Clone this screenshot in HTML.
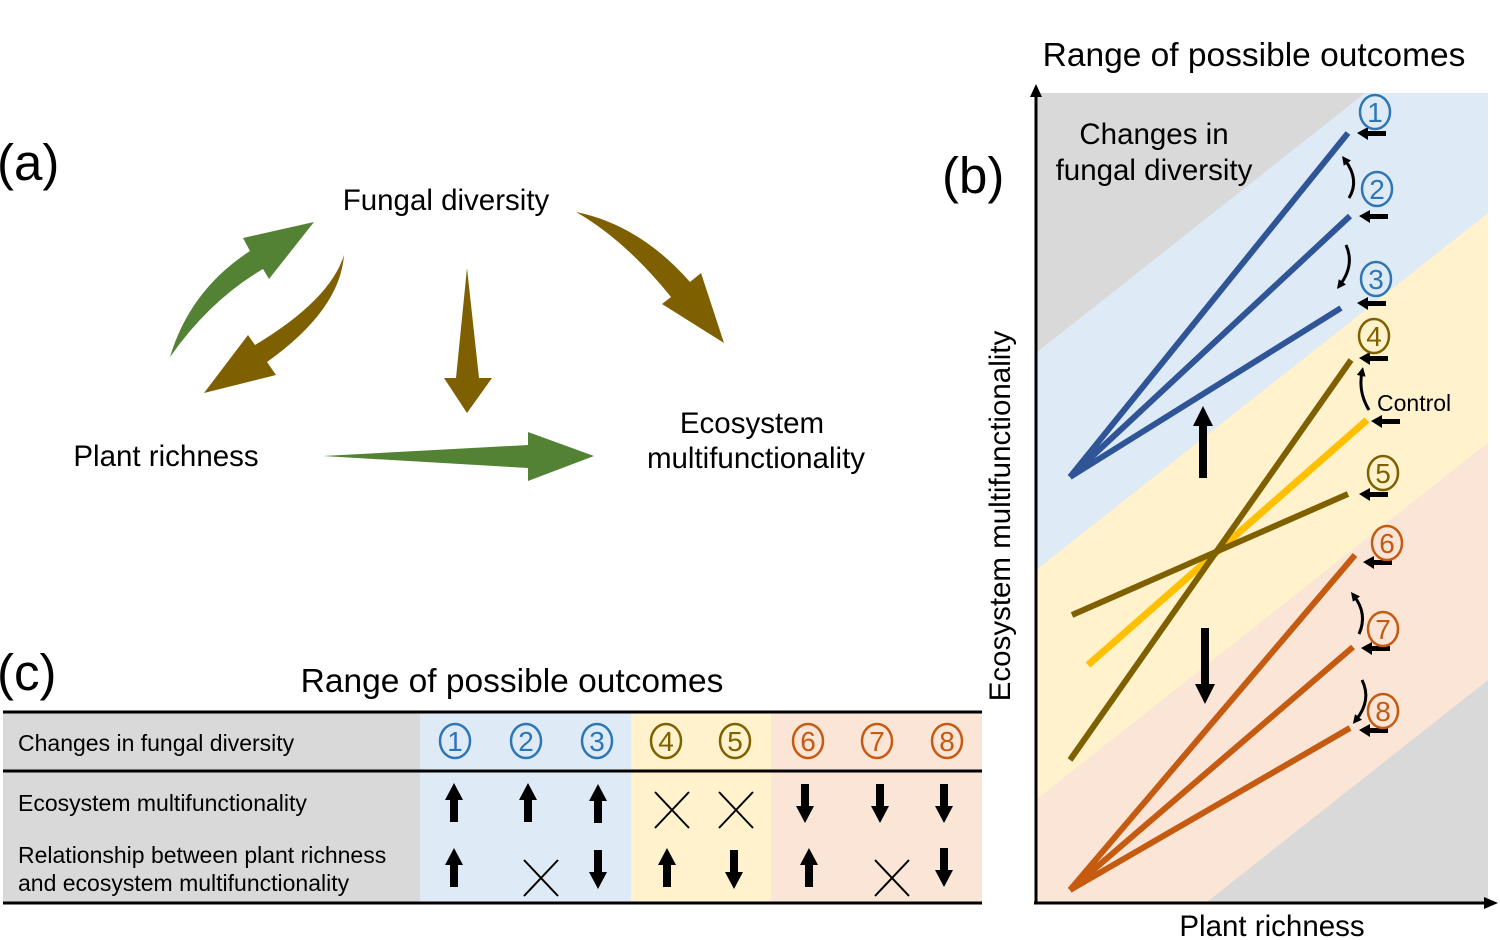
<!DOCTYPE html>
<html><head><meta charset="utf-8"><style>
html,body{margin:0;padding:0;background:#fff;overflow:hidden;width:1500px;height:940px;}
svg{display:block;font-family:"Liberation Sans",sans-serif;}
</style></head><body>
<svg width="1500" height="940" viewBox="0 0 1500 940" xmlns="http://www.w3.org/2000/svg">
<defs>
<clipPath id="cb"><rect x="1036" y="93" width="452" height="810"/></clipPath>
<marker id="ah" markerWidth="9" markerHeight="9" refX="4" refY="4.5" orient="auto" markerUnits="userSpaceOnUse"><path d="M0,0 L9,4.5 L0,9 Z" fill="#000"/></marker>
</defs>

<text x="-3" y="180" font-size="51">(a)</text>
<text x="446" y="210" font-size="29.5" text-anchor="middle">Fungal diversity</text>
<text x="166" y="466" font-size="29.5" text-anchor="middle">Plant richness</text>
<text x="752" y="433" font-size="29.5" text-anchor="middle">Ecosystem</text>
<text x="756" y="468" font-size="29.5" text-anchor="middle">multifunctionality</text>

<path d="M170,357 Q190,290 250,251 L243,238 L314,222 L269,279 L263,269 Q210,300 170,357 Z" fill="#548235"/>
<path d="M344,255 Q340,310 267,362 L276,375 L204,393 L248,335 L255,345 Q330,300 344,255 Z" fill="#7f6000"/>
<path d="M467,268 L479,378 L492,378 L467,413 L444,378 L456,378 Z" fill="#7f6000"/>
<path d="M576,212 Q640,225 690,282 L701,273 L724,343 L662,304 L671,297 Q625,240 576,212 Z" fill="#7f6000"/>
<path d="M323,456 L528,445 L528,432 L594,456 L528,481 L528,468 Z" fill="#548235"/>

<text x="-3" y="690" font-size="51">(c)</text>
<text x="512" y="692" font-size="33.5" text-anchor="middle">Range of possible outcomes</text>
<rect x="3" y="712" width="417" height="191" fill="#d9d9d9"/>
<rect x="420" y="712" width="211" height="191" fill="#deebf7"/>
<rect x="631" y="712" width="140" height="191" fill="#fff2cc"/>
<rect x="771" y="712" width="211" height="191" fill="#fbe5d6"/>
<line x1="3" y1="712" x2="982" y2="712" stroke="#000" stroke-width="3"/>
<line x1="3" y1="771" x2="982" y2="771" stroke="#000" stroke-width="3"/>
<line x1="3" y1="903" x2="982" y2="903" stroke="#000" stroke-width="3"/>
<text x="18" y="751" font-size="23">Changes in  fungal diversity</text>
<text x="18" y="811" font-size="23">Ecosystem multifunctionality</text>
<text x="18" y="863" font-size="23">Relationship between plant richness</text>
<text x="18" y="891" font-size="23">and ecosystem multifunctionality</text>
<g fill="none" stroke-width="2.5">
<g stroke="#2e75b6"><ellipse cx="455" cy="741" rx="15" ry="17"/><ellipse cx="526" cy="741" rx="15" ry="17"/><ellipse cx="597" cy="741" rx="15" ry="17"/></g>
<g stroke="#7f6000"><ellipse cx="666" cy="741" rx="15" ry="17"/><ellipse cx="735" cy="741" rx="15" ry="17"/></g>
<g stroke="#c55a11"><ellipse cx="808" cy="741" rx="15" ry="17"/><ellipse cx="877" cy="741" rx="15" ry="17"/><ellipse cx="947" cy="741" rx="15" ry="17"/></g>
</g>
<g font-size="28" text-anchor="middle">
<text x="455" y="751" fill="#2e75b6">1</text><text x="526" y="751" fill="#2e75b6">2</text><text x="597" y="751" fill="#2e75b6">3</text>
<text x="666" y="751" fill="#7f6000">4</text><text x="735" y="751" fill="#7f6000">5</text>
<text x="808" y="751" fill="#c55a11">6</text><text x="877" y="751" fill="#c55a11">7</text><text x="947" y="751" fill="#c55a11">8</text>
</g>
<g fill="#000">
<path id="up" d="M454,783 L463,800 L458,800 L458,822 L450,822 L450,800 L445,800 Z"/>
<use href="#up" x="74"/><use href="#up" x="144" y="1"/>
<use href="#up" y="65"/><use href="#up" x="213" y="65"/><use href="#up" x="355" y="65"/>
<path id="dn" d="M805,823 L814,806 L809,806 L809,784 L801,784 L801,806 L796,806 Z"/>
<use href="#dn" x="75"/><use href="#dn" x="139"/>
<use href="#dn" x="-207" y="66"/><use href="#dn" x="-71" y="66"/><use href="#dn" x="139" y="64"/>
</g>
<g stroke="#000" stroke-width="2">
<path d="M655,792 L689,828 M689,792 L655,828"/>
<path d="M719,792 L753,828 M753,792 L719,828"/>
<path d="M524,860 L558,896 M558,860 L524,896"/>
<path d="M875,860 L909,896 M909,860 L875,896"/>
</g>

<text x="1254" y="66" font-size="33.5" text-anchor="middle">Range of possible outcomes</text>
<text x="942" y="193" font-size="51">(b)</text>
<g clip-path="url(#cb)">
<rect x="1036" y="93" width="452" height="810" fill="#d9d9d9"/>
<polygon points="1036,353 1488,-4 1488,213 1036,570" fill="#deebf7"/>
<polygon points="1036,570 1488,213 1488,443 1036,800" fill="#fff2cc"/>
<polygon points="1036,800 1488,443 1488,680 1036,1037" fill="#fbe5d6"/>
</g>
<text x="1154" y="144" font-size="29.5" text-anchor="middle">Changes in</text>
<text x="1154" y="180" font-size="29.5" text-anchor="middle">fungal diversity</text>
<line x1="1036" y1="903" x2="1036" y2="95" stroke="#000" stroke-width="3"/>
<path d="M1036,84 L1042,97 L1030,97 Z"/>
<line x1="1034" y1="903" x2="1486" y2="903" stroke="#000" stroke-width="3"/>
<path d="M1498,903 L1484,897 L1484,909 Z"/>
<text x="1272" y="936" font-size="29.5" text-anchor="middle">Plant richness</text>
<text transform="translate(1010,516) rotate(-90)" font-size="29.5" text-anchor="middle">Ecosystem multifunctionality</text>

<g stroke-width="6" stroke-linecap="butt">
<g stroke="#2f5597"><line x1="1070" y1="477" x2="1348" y2="133"/><line x1="1070" y1="477" x2="1350" y2="216"/><line x1="1070" y1="477" x2="1341" y2="308"/></g>
<line x1="1088" y1="665" x2="1367" y2="420" stroke="#ffc000" stroke-width="7"/>
<g stroke="#7f6000"><line x1="1070" y1="760" x2="1351" y2="360"/><line x1="1072" y1="615" x2="1348" y2="494"/></g>
<g stroke="#c55a11"><line x1="1070" y1="890" x2="1355" y2="555"/><line x1="1070" y1="890" x2="1353" y2="647"/><line x1="1070" y1="890" x2="1350" y2="728"/></g>
</g>
<path d="M1203,406 L1213,426 L1207,426 L1207,478 L1199,478 L1199,426 L1193,426 Z"/>
<path d="M1205,704 L1215,684 L1209,684 L1209,628 L1201,628 L1201,684 L1195,684 Z"/>
<g fill="#000">
<path id="la" d="M1357,133 L1368,127 L1368,131 L1386,131 L1386,136 L1368,136 L1368,140 Z"/>
<use href="#la" x="2" y="83"/><use href="#la" x="0" y="170"/><use href="#la" x="2" y="225"/>
<use href="#la" x="14" y="288"/><use href="#la" x="2" y="361"/><use href="#la" x="6" y="429"/>
<use href="#la" x="4" y="515"/><use href="#la" x="2" y="597"/>
</g>
<g fill="none" stroke="#000" stroke-width="3" marker-end="url(#ah)">
<path d="M1349,198 Q1360,180 1345,160"/>
<path d="M1346,245 Q1355,265 1340,285"/>
<path d="M1369,410 Q1358,392 1362,372"/>
<path d="M1359,634 Q1368,614 1354,596"/>
<path d="M1362,680 Q1372,700 1356,720"/>
</g>
<text x="1377" y="411" font-size="23">Control</text>
<g fill="none" stroke-width="2.5">
<g stroke="#2e75b6"><ellipse cx="1375" cy="112" rx="15" ry="17"/><ellipse cx="1377" cy="189" rx="15" ry="17"/><ellipse cx="1376" cy="279" rx="15" ry="17"/></g>
<g stroke="#7f6000"><ellipse cx="1374" cy="336" rx="15" ry="17"/><ellipse cx="1383" cy="473" rx="15" ry="17"/></g>
<g stroke="#c55a11"><ellipse cx="1387" cy="543" rx="15" ry="17"/><ellipse cx="1383" cy="629" rx="15" ry="17"/><ellipse cx="1383" cy="711" rx="15" ry="17"/></g>
</g>
<g font-size="28" text-anchor="middle">
<text x="1375" y="122" fill="#2e75b6">1</text><text x="1377" y="199" fill="#2e75b6">2</text><text x="1376" y="289" fill="#2e75b6">3</text>
<text x="1374" y="346" fill="#7f6000">4</text><text x="1383" y="483" fill="#7f6000">5</text>
<text x="1387" y="553" fill="#c55a11">6</text><text x="1383" y="639" fill="#c55a11">7</text><text x="1383" y="721" fill="#c55a11">8</text>
</g>
</svg>
</body></html>
